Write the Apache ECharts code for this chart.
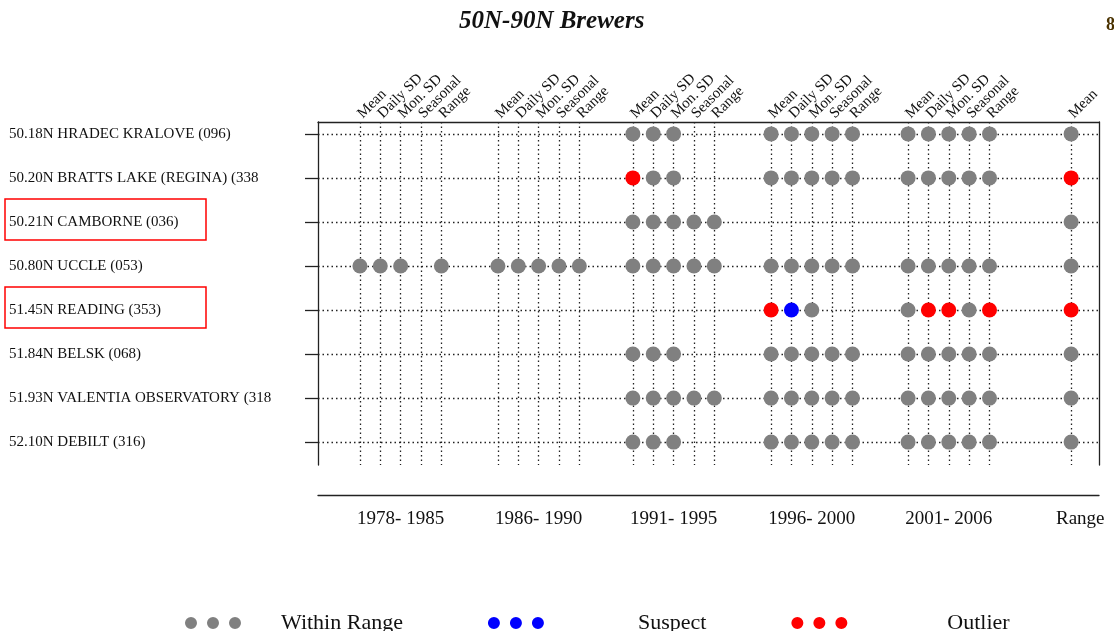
<!DOCTYPE html>
<html>
<head>
<meta charset="utf-8">
<script src="https://cdn.jsdelivr.net/npm/echarts@6/dist/echarts.min.js"></script>
<style>
html, body { margin: 0; padding: 0; background: #fff; }
#main { width: 1114px; height: 631px; }
</style>
</head>
<body>
<div id="main"></div>
<script>
var stations = [
    '50.18N HRADEC KRALOVE (096)',
    '50.20N BRATTS LAKE (REGINA) (338',
    '50.21N CAMBORNE (036)',
    '50.80N UCCLE (053)',
    '51.45N READING (353)',
    '51.84N BELSK (068)',
    '51.93N VALENTIA OBSERVATORY (318',
    '52.10N DEBILT (316)'
];
var periods = ['1978- 1985', '1986- 1990', '1991- 1995', '1996- 2000', '2001- 2006', 'Range'];
var measures = ['Mean', 'Daily SD', 'Mon. SD', 'Seasonal', 'Range'];
var rangeMeasures = ['Mean'];
var statusNames = ['Within Range', 'Suspect', 'Outlier'];
var statusColors = ['#808080', '#0000ff', '#ff0000'];
var boxed = [2, 4];

// 0 = nothing, 1 = within range, 2 = suspect, 3 = outlier
// 5 columns per period, last one is the Range mean
var flags = [
    [0,0,0,0,0, 0,0,0,0,0, 1,1,1,0,0, 1,1,1,1,1, 1,1,1,1,1, 1],
    [0,0,0,0,0, 0,0,0,0,0, 3,1,1,0,0, 1,1,1,1,1, 1,1,1,1,1, 3],
    [0,0,0,0,0, 0,0,0,0,0, 1,1,1,1,1, 0,0,0,0,0, 0,0,0,0,0, 1],
    [1,1,1,0,1, 1,1,1,1,1, 1,1,1,1,1, 1,1,1,1,1, 1,1,1,1,1, 1],
    [0,0,0,0,0, 0,0,0,0,0, 0,0,0,0,0, 3,2,1,0,0, 1,3,3,1,3, 3],
    [0,0,0,0,0, 0,0,0,0,0, 1,1,1,0,0, 1,1,1,1,1, 1,1,1,1,1, 1],
    [0,0,0,0,0, 0,0,0,0,0, 1,1,1,1,1, 1,1,1,1,1, 1,1,1,1,1, 1],
    [0,0,0,0,0, 0,0,0,0,0, 1,1,1,0,0, 1,1,1,1,1, 1,1,1,1,1, 1]
];

// axis range and where each period block starts (1 unit = one column)
var xMin = -2.06, xMax = 36.31;
var groupStart = [0, 6.78, 13.41, 20.2, 26.93, 34.94];

var colX = [], colName = [];
periods.forEach(function (p, i) {
    var m = i < 5 ? measures : rangeMeasures;
    m.forEach(function (name, j) {
        colX.push(groupStart[i] + j);
        colName.push(name);
    });
});
var periodX = periods.map(function (p, i) {
    return i < 5 ? groupStart[i] + 2 : groupStart[i] + 0.45;
});
// blank labels at both ends so echarts doesn't drop "Daily SD" as an overlap of the first label
var topLabelX = [xMin].concat(colX, [xMax]);
var rowIdx = stations.map(function (s, i) { return i; });

function pick(xs, names, v) {
    for (var i = 0; i < xs.length; i++) {
        if (Math.abs(xs[i] - v) < 0.01) return names[i];
    }
    return '';
}

var serif = 'Liberation Serif';
var dots = 'path://M0,6a6,6 0 1,0 12,0a6,6 0 1,0 -12,0M22,6a6,6 0 1,0 12,0a6,6 0 1,0 -12,0M44,6a6,6 0 1,0 12,0a6,6 0 1,0 -12,0';
var dotted = { color: '#222', type: [1.5, 3], width: 1.3 };
var frame = { color: '#222', width: 1.3 };

var series = statusNames.map(function (name, k) {
    var data = [];
    flags.forEach(function (row, r) {
        row.forEach(function (f, c) {
            if (f === k + 1) data.push([colX[c], r]);
        });
    });
    return {
        name: name,
        type: 'scatter',
        symbolSize: 15,
        itemStyle: { color: statusColors[k], opacity: 1 },
        data: data,
        z: 5
    };
});

var myChart = echarts.init(document.getElementById('main'));
var option = {
    animation: false,
    title: {
        text: '50N-90N Brewers',
        left: 454,
        top: 4,
        textStyle: { fontFamily: serif, fontSize: 25, fontWeight: 'bold', fontStyle: 'italic', color: '#111' }
    },
    legend: {
        left: 180,
        top: 607,
        itemWidth: 56,
        itemHeight: 14,
        itemGap: 85,
        data: statusNames.map(function (n) { return { name: n, icon: dots }; }),
        formatter: function (name) {
            var i = statusNames.indexOf(name);
            return '{p' + i + '| }' + name;
        },
        textStyle: {
            fontFamily: serif, fontSize: 22, color: '#111',
            rich: { p0: { width: 35 }, p1: { width: 89 }, p2: { width: 95 } }
        }
    },
    grid: { left: 318, right: 15, top: 122, bottom: 166 },
    xAxis: [{
        type: 'value',
        min: xMin,
        max: xMax,
        position: 'bottom',
        offset: 30,
        axisLine: { show: true, onZero: false, lineStyle: frame },
        axisTick: { show: false, customValues: colX },
        axisLabel: {
            customValues: periodX,
            margin: 15,
            fontFamily: serif, fontSize: 19, color: '#111',
            formatter: function (v) { return pick(periodX, periods, v); }
        },
        splitLine: { show: true, lineStyle: dotted }
    }, {
        type: 'value',
        min: xMin,
        max: xMax,
        position: 'top',
        axisLine: { show: true, onZero: false, lineStyle: frame },
        axisTick: { show: false, customValues: colX },
        axisLabel: {
            customValues: topLabelX,
            rotate: -45,
            margin: 6,
            hideOverlap: false,
            fontFamily: serif, fontSize: 15, color: '#111',
            formatter: function (v) { return pick(colX, colName, v); }
        },
        splitLine: { show: false }
    }],
    yAxis: [{
        type: 'value',
        inverse: true,
        min: -0.27,
        max: 7.52,
        axisLine: { show: true, onZero: false, lineStyle: frame },
        axisTick: { show: true, length: 13, customValues: rowIdx, lineStyle: frame },
        axisLabel: {
            customValues: rowIdx,
            align: 'left',
            margin: 309,
            fontFamily: serif, fontSize: 15, color: '#111',
            formatter: function (v) { return stations[Math.round(v)] || ''; }
        },
        splitLine: { show: true, lineStyle: dotted }
    }, {
        type: 'value',
        inverse: true,
        min: -0.27,
        max: 7.52,
        position: 'right',
        axisLine: { show: true, onZero: false, lineStyle: frame },
        axisTick: { show: false },
        axisLabel: { show: false },
        splitLine: { show: false }
    }],
    series: series
};
myChart.setOption(option);

// red boxes round the highlighted station names
var graphics = boxed.map(function (r) {
    var y = myChart.convertToPixel({ yAxisIndex: 0 }, r);
    return {
        type: 'rect',
        shape: { x: 5, y: y - 23, width: 201, height: 41 },
        style: { fill: 'none', stroke: '#ff0000', lineWidth: 1.5 }
    };
});
graphics.push({
    type: 'text',
    x: 1106,
    y: 16,
    style: { text: '8', fill: '#4a3200', font: 'bold 18px "Liberation Serif"' }
});
myChart.setOption({ graphic: graphics });
</script>
</body>
</html>
